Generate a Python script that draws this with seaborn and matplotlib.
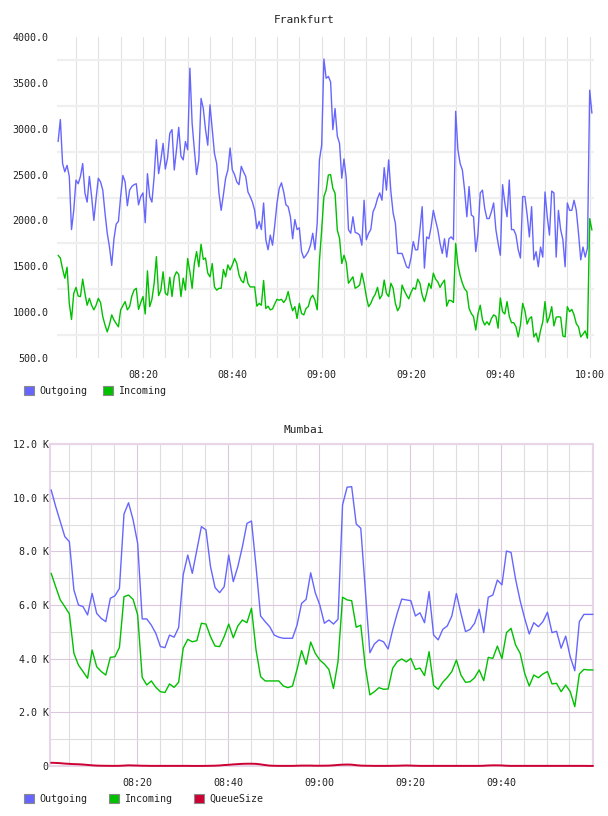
import numpy as np
import pandas as pd
import matplotlib
matplotlib.use("Agg")
import matplotlib.pyplot as plt
import matplotlib.dates as mdates
from matplotlib.patches import Patch
from matplotlib.ticker import FixedLocator, FuncFormatter, MultipleLocator
import seaborn as sns

# Frankfurt: one sample every 30 s starting 08:01:00
fra_out = [2860, 3100, 2620, 2530, 2600, 2480, 1900, 2110, 2440, 2400,
           2480, 2620, 2300, 2200, 2480, 2260, 2000, 2240, 2460, 2420,
           2330, 2080, 1860, 1710, 1510, 1800, 1960, 1990, 2260, 2490,
           2420, 2160, 2330, 2370, 2390, 2400, 2170, 2260, 2300, 1975,
           2510, 2260, 2200, 2480, 2880, 2510, 2660, 2840, 2560, 2680,
           2950, 2990, 2550, 2770, 3015, 2700, 2660, 2860, 2770, 3660,
           3060, 2770, 2500, 2660, 3330, 3220, 2990, 2820, 3260, 2990,
           2730, 2620, 2300, 2110, 2280, 2460, 2550, 2790, 2550, 2500,
           2420, 2390, 2590, 2530, 2480, 2310, 2260, 2200, 2110, 1910,
           1990, 1900, 2190, 1790, 1680, 1840, 1730, 1950, 2190, 2350,
           2410, 2310, 2170, 2150, 2040, 1800, 2010, 1900, 1920, 1660,
           1590, 1620, 1660, 1730, 1860, 1680, 1970, 2660, 2820, 3760,
           3550, 3570, 3510, 2990, 3220, 2920, 2840, 2460, 2670, 2460,
           1900, 1860, 2040, 1870, 1860, 1840, 1730, 2220, 1790, 1860,
           1900, 2095, 2150, 2240, 2300, 2220, 2575, 2330, 2660, 2310,
           2080, 1970, 1640, 1640, 1640, 1570, 1495, 1480, 1590, 1770,
           1680, 1680, 1900, 2150, 1480, 1820, 1800, 1930, 2110, 2000,
           1900, 1750, 1640, 1800, 1600, 1800, 1820, 1790, 3190, 2770,
           2620, 2550, 2330, 2040, 2370, 2060, 2040, 1660, 1860, 2300,
           2330, 2130, 2020, 2020, 2095, 2190, 1900, 1750, 1620, 2390,
           2190, 2040, 2440, 1900, 1900, 1840, 1680, 1590, 2260, 2260,
           2060, 1820, 2150, 1570, 1660, 1495, 1710, 1600, 2310, 2040,
           1840, 2320, 2300, 1600, 2110, 1900, 1790, 1495, 2190, 2110,
           2110, 2220, 2110, 1860, 1570, 1710, 1600, 1700, 3420, 3170]
fra_in = [1620, 1590, 1470, 1370, 1490, 1095, 920, 1205, 1270, 1175,
          1170, 1360, 1205, 1075, 1150, 1075, 1025, 1075, 1150, 1105,
          950, 860, 785, 865, 970, 915, 875, 840, 1025, 1070,
          1115, 1025, 1060, 1175, 1240, 1260, 1030, 1105, 1170, 980,
          1450, 1060, 1140, 1315, 1605, 1180, 1240, 1440, 1205, 1185,
          1380, 1170, 1385, 1440, 1410, 1170, 1370, 1240, 1585, 1440,
          1260, 1530, 1660, 1495, 1740, 1575, 1590, 1425, 1385, 1530,
          1275, 1240, 1260, 1260, 1465, 1385, 1515, 1460, 1515, 1585,
          1530, 1405, 1345, 1320, 1440, 1315, 1275, 1275, 1275, 1065,
          1095, 1075, 1345, 1040, 1065, 1025, 1035, 1090, 1140, 1130,
          1140, 1105, 1140, 1225, 1105, 1015, 1060, 930, 1095, 985,
          970, 1040, 1060, 1150, 1185, 1130, 1025, 1560, 1895, 2260,
          2330, 2495, 2500, 2350, 2295, 1895, 1805, 1530, 1620, 1540,
          1315, 1350, 1385, 1260, 1275, 1295, 1425, 1315, 1170, 1060,
          1095, 1155, 1195, 1270, 1145, 1185, 1350, 1205, 1170, 1315,
          1260, 1095, 1015, 1060, 1295, 1235, 1185, 1145, 1215, 1265,
          1250, 1360, 1315, 1185, 1115, 1205, 1315, 1260, 1425, 1360,
          1330, 1270, 1315, 1350, 1065, 1130, 1125, 1105, 1750, 1515,
          1400, 1315, 1255, 1225, 1040, 985, 950, 805, 985, 1075,
          915, 860, 895, 860, 930, 970, 955, 825, 1155, 1005,
          980, 1115, 955, 885, 885, 840, 730, 860, 1095, 1015,
          870, 930, 950, 730, 770, 675, 800, 895, 1115, 885,
          950, 1060, 850, 945, 950, 945, 740, 730, 1060, 1005,
          1030, 970, 875, 840, 730, 760, 795, 715, 2020, 1895]

# Mumbai: one sample a minute starting 08:01:10, values in thousands
mum_out = [10.29, 9.67, 9.11, 8.55, 8.36, 6.56, 6.00, 5.94, 5.63, 6.43,
           5.69, 5.50, 5.38, 6.25, 6.34, 6.62, 9.39, 9.81, 9.17, 8.30,
           5.48, 5.48, 5.25, 4.94, 4.45, 4.41, 4.88, 4.80, 5.16, 7.12,
           7.86, 7.18, 8.05, 8.92, 8.80, 7.43, 6.65, 6.46, 6.68, 7.86,
           6.87, 7.43, 8.17, 9.04, 9.13, 7.43, 5.59, 5.38, 5.19, 4.88,
           4.80, 4.76, 4.76, 4.76, 5.25, 6.06, 6.21, 7.20, 6.46, 6.00,
           5.32, 5.44, 5.29, 5.47, 9.73, 10.39, 10.41, 9.02, 8.86, 6.56,
           4.22, 4.55, 4.70, 4.63, 4.36, 5.07, 5.69, 6.22, 6.19, 6.16,
           5.59, 5.71, 5.34, 6.50, 4.88, 4.70, 5.09, 5.22, 5.59, 6.43,
           5.69, 5.01, 5.09, 5.32, 5.84, 4.97, 6.29, 6.37, 6.93, 6.75,
           8.01, 7.96, 6.96, 6.16, 5.50, 4.92, 5.34, 5.19, 5.38, 5.73,
           4.97, 5.02, 4.39, 4.84, 4.07, 3.55, 5.38, 5.65, 5.65, 5.65]
mum_in = [7.18, 6.68, 6.19, 5.94, 5.67, 4.20, 3.76, 3.52, 3.27, 4.32,
          3.70, 3.52, 3.39, 4.05, 4.07, 4.42, 6.31, 6.37, 6.21, 5.63,
          3.30, 3.02, 3.17, 2.93, 2.77, 2.74, 3.06, 2.93, 3.12, 4.39,
          4.72, 4.63, 4.67, 5.32, 5.29, 4.82, 4.47, 4.45, 4.82, 5.29,
          4.78, 5.22, 5.44, 5.34, 5.88, 4.32, 3.33, 3.17, 3.17, 3.17,
          3.17, 2.98, 2.92, 2.98, 3.60, 4.30, 3.79, 4.62, 4.20, 3.95,
          3.80, 3.60, 2.89, 3.89, 6.29, 6.19, 6.16, 5.17, 5.25, 3.70,
          2.65, 2.77, 2.92, 2.86, 2.87, 3.64, 3.89, 3.99, 3.88, 4.01,
          3.60, 3.65, 3.37, 4.26, 3.00, 2.86, 3.12, 3.30, 3.52, 3.95,
          3.39, 3.12, 3.14, 3.29, 3.58, 3.18, 4.05, 4.01, 4.47, 4.00,
          4.97, 5.13, 4.51, 4.20, 3.45, 2.98, 3.39, 3.29, 3.43, 3.52,
          3.06, 3.08, 2.77, 3.02, 2.77, 2.21, 3.43, 3.60, 3.58, 3.58]
mum_queue = [.120, .115, .105, .090, .080, .070, .065, .055, .040, .025,
             .015, .010, .008, .006, .005, .008, .015, .025, .020, .015,
             .010, .008, .005, .005, .005, .005, .005, .005, .005, .005,
             .005, .003, .003, .003, .005, .008, .012, .020, .035, .045,
             .060, .070, .080, .085, .085, .080, .060, .035, .015, .008,
             .005, .005, .005, .005, .010, .015, .015, .015, .010, .010,
             .012, .015, .025, .040, .050, .055, .050, .030, .015, .010,
             .008, .005, .005, .005, .005, .008, .010, .015, .020, .015,
             .010, .005, .005, .005, .005, .005, .005, .005, .005, .005,
             .005, .005, .005, .005, .005, .010, .020, .025, .025, .020,
             .010, .005, .005, .005, .005, .005, .005, .005, .005, .005,
             .005, .005, .005, .005, .005, .005, .005, .005, .003, .003]

BLUE = "#6666ff"
GREEN = "#00c000"
RED = "#cc0033"
DAY = "2024-01-01 "

sns.set_style("white")
plt.rcParams["font.family"] = ["DejaVu Sans Mono"]
plt.rcParams["font.size"] = 7.2
plt.rcParams["text.color"] = "#222222"
plt.rcParams["xtick.color"] = "#222222"
plt.rcParams["ytick.color"] = "#222222"

fra_t = pd.date_range(DAY + "08:01:00", periods=len(fra_out), freq="30s")
fra = pd.concat([
    pd.DataFrame({"time": fra_t, "value": fra_out, "series": "Outgoing"}),
    pd.DataFrame({"time": fra_t, "value": fra_in, "series": "Incoming"}),
])
mum_t = pd.date_range(DAY + "08:01:10", periods=len(mum_out), freq="60s")
mum = pd.concat([
    pd.DataFrame({"time": mum_t, "value": mum_out, "series": "Outgoing"}),
    pd.DataFrame({"time": mum_t, "value": mum_in, "series": "Incoming"}),
    pd.DataFrame({"time": mum_t, "value": mum_queue, "series": "QueueSize"}),
])
pal = {"Outgoing": BLUE, "Incoming": GREEN, "QueueSize": RED}

fig = plt.figure(figsize=(6.08, 8.16), dpi=100)
ax1 = fig.add_axes([57 / 608, 1 - 358 / 816, 537 / 608, 321 / 816])
ax2 = fig.add_axes([50 / 608, 1 - 766 / 816, 543 / 608, 322 / 816])

# ---- Frankfurt
sns.lineplot(data=fra, x="time", y="value", hue="series", palette=pal,
             linewidth=1.0, legend=False, ax=ax1)
ax1.set_xlim(pd.Timestamp(DAY + "08:00:45"), pd.Timestamp(DAY + "10:00:58"))
ax1.set_ylim(500, 4000)
ax1.yaxis.set_major_locator(MultipleLocator(500))
ax1.yaxis.set_minor_locator(FixedLocator(np.arange(750, 4000, 500)))
ax1.yaxis.set_major_formatter(FuncFormatter(lambda v, p: f"{v:.1f}"))
ax1.xaxis.set_major_locator(mdates.MinuteLocator(byminute=[0, 20, 40]))
ax1.xaxis.set_minor_locator(mdates.MinuteLocator(byminute=range(0, 60, 5)))
ax1.xaxis.set_major_formatter(mdates.DateFormatter("%H:%M"))
ax1.set_axisbelow(True)
ax1.grid(which="minor", axis="y", color="#efefef", lw=1.6)
ax1.grid(which="both", axis="x", color="#e2e2e2", lw=0.8)
ax1.tick_params(which="both", length=0)
ax1.tick_params(axis="y", pad=6)
ax1.tick_params(axis="x", pad=9)
for s in ax1.spines.values():
    s.set_visible(False)
ax1.set_xlabel("")
ax1.set_ylabel("")

# ---- Mumbai
sns.lineplot(data=mum, x="time", y="value", hue="series", palette=pal,
             linewidth=1.0, legend=False, ax=ax2)
for line in ax2.lines:
    line.set_clip_on(False)
    line.set_zorder(3)
ax2.lines[-1].set_linewidth(1.4)
ax2.set_xlim(pd.Timestamp(DAY + "08:00:55"), pd.Timestamp(DAY + "10:00:10"))
ax2.set_ylim(0, 12)
ax2.yaxis.set_major_locator(MultipleLocator(2))
ax2.yaxis.set_minor_locator(MultipleLocator(1))
ax2.yaxis.set_major_formatter(FuncFormatter(lambda v, p: "0" if v == 0 else f"{v:.1f} K"))
ticks = pd.to_datetime([DAY + t for t in ["08:20", "08:40", "09:00", "09:20", "09:40"]])
ax2.xaxis.set_major_locator(FixedLocator(mdates.date2num(ticks)))
ax2.xaxis.set_minor_locator(mdates.MinuteLocator(byminute=range(0, 60, 5)))
ax2.xaxis.set_major_formatter(mdates.DateFormatter("%H:%M"))
ax2.set_axisbelow(True)
ax2.grid(which="minor", color="#dedede", lw=0.8)
ax2.grid(which="major", color="#dcc8dc", lw=0.8)
ax2.tick_params(which="both", length=0)
ax2.tick_params(axis="y", pad=1)
ax2.tick_params(axis="x", pad=9)
for s in ax2.spines.values():
    s.set_color("#e8d6e8")
    s.set_linewidth(1.5)
    s.set_zorder(1)
ax2.set_xlabel("")
ax2.set_ylabel("")

# titles
fig.text(0.5, 1 - 20 / 816, "Frankfurt", ha="center", va="center", fontsize=8)
fig.text(0.5, 1 - 430 / 816, "Mumbai", ha="center", va="center", fontsize=8)

# legends
def swatch(color, label):
    return Patch(facecolor=color, edgecolor="#8a8a8a", lw=0.8, label=label)

fig.legend(handles=[swatch(BLUE, "Outgoing"), swatch(GREEN, "Incoming")],
           loc="upper left", bbox_to_anchor=(24 / 608, 1 - 386 / 816), ncol=2,
           frameon=False, fontsize=7.2, handlelength=1.0, handleheight=1.0,
           handletextpad=0.5, columnspacing=1.6, borderpad=0, borderaxespad=0)
fig.legend(handles=[swatch(BLUE, "Outgoing"), swatch(GREEN, "Incoming"),
                    swatch(RED, "QueueSize")],
           loc="upper left", bbox_to_anchor=(24 / 608, 1 - 794 / 816), ncol=3,
           frameon=False, fontsize=7.2, handlelength=1.0, handleheight=1.0,
           handletextpad=0.5, columnspacing=2.2, borderpad=0, borderaxespad=0)

fig.savefig("out.png", dpi=100)
